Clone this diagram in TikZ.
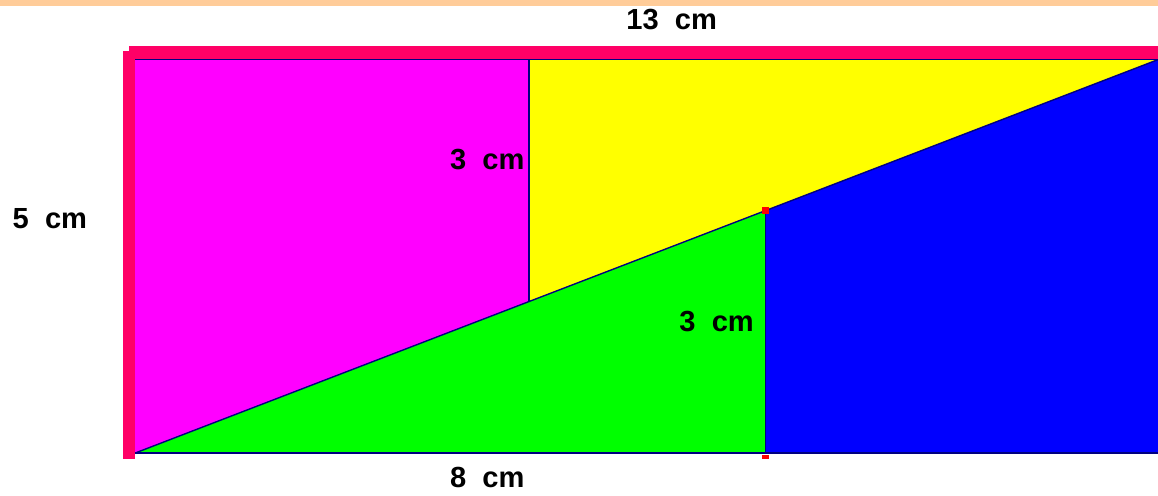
\documentclass[tikz,border=0pt]{standalone}
\usepackage{fontspec}
\setmainfont{Liberation Sans}
\usepackage{tikz}
\definecolor{my_peach}{HTML}{FFCC99}
\definecolor{my_frame}{HTML}{FF0066}
\definecolor{my_navy}{HTML}{000080}
\definecolor{my_magenta}{HTML}{FF00FF}
\definecolor{my_yellow}{HTML}{FFFF00}
\definecolor{my_green}{HTML}{00FF00}
\definecolor{my_blue}{HTML}{0000FF}

\begin{document}
\begin{tikzpicture}[
    x=1cm, y=1cm,
    edge/.style={my_navy, line width=0.5pt},
    dimlabel/.style={font=\fontsize{10.5}{12}\selectfont\bfseries, inner sep=0pt}
]

% ---------------------------------------------------------------
%  13 x 5 rectangle cut along its diagonal into four pieces:
%    magenta trapezoid, yellow triangle, green triangle, blue trapezoid
%  Cut lines at x = 5 and x = 8
% ---------------------------------------------------------------

\useasboundingbox (-1.713,-0.533) rectangle (12.98,5.749);
\clip (-1.713,-0.533) rectangle (12.98,5.749);

\coordinate (pBL)   at ( 0,  0);        %  bottom left
\coordinate (pBR)   at (13,  0);        %  bottom right
\coordinate (pTR)   at (13,  5);        %  top right
\coordinate (pTL)   at ( 0,  5);        %  top left
\coordinate (pCutT) at ( 5,  5);        %  top of first cut
\coordinate (pCutL) at ( 5, 1.923);     %  first cut on diagonal
\coordinate (pStpT) at ( 8, 3.077);     %  second cut on diagonal
\coordinate (pStpL) at ( 8,  0);        %  foot of second cut

% ---- Top strip ----
\fill[my_peach] (-1.713,5.673) rectangle (12.98,5.749);

% ---- Piece fills ----
\fill[my_magenta] (pBL) -- (pCutL) -- (pCutT) -- (pTL) -- cycle;
\fill[my_yellow]  (pCutL) -- (pTR) -- (pCutT) -- cycle;
\fill[my_green]   (pBL) -- (pStpL) -- (pStpT) -- cycle;
\fill[my_blue]    (pStpL) -- (pBR) -- (pTR) -- (pStpT) -- cycle;

% ---- Cut edges ----
\draw[edge] (pBL) -- (pBR);
\draw[edge] (pTL) -- (pTR);
\draw[edge] (pBL) -- (pTR);
\draw[edge] (pCutT) -- (pCutL);
\draw[edge] (pStpT) -- (pStpL);

% ---- Red frame on top and left ----
\fill[my_frame] (-0.076,5.0) rectangle (12.98,5.165);
\fill[my_frame] (-0.152,-0.076) rectangle (0,5.10);

% ---- Red marks at the second cut ----
\fill[red] ([shift={(-0.04,-0.04)}]pStpT) rectangle ([shift={(0.04,0.04)}]pStpT);
\fill[red] ([shift={(-0.04,-0.07)}]pStpL) rectangle ([shift={(0.04,-0.02)}]pStpL);

% ---- Dimension labels ----
\node[dimlabel] (lTop)   at (6.81, 5.495) {13\ \ cm};
\node[dimlabel] (lLeft)  at (-1.08, 2.98) {5\ \ cm};
\node[dimlabel] (lCut)   at (4.47, 3.72)  {3\ \ cm};
\node[dimlabel] (lStep)  at (7.38, 1.67)  {3\ \ cm};
\node[dimlabel] (lBot)   at (4.47, -0.31) {8\ \ cm};

\end{tikzpicture}
\end{document}
